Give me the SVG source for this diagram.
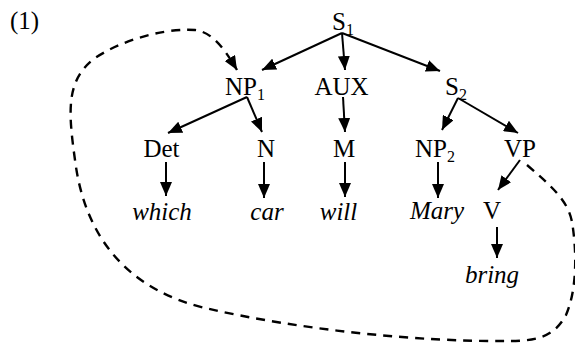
<svg xmlns="http://www.w3.org/2000/svg" width="575" height="345" viewBox="0 0 575 345">
<style>
text{font-family:"Liberation Serif","Times New Roman",serif;font-size:25px;fill:#000}
.it{font-style:italic}
.sub{font-size:16px}
.e{stroke:#000;stroke-width:2;fill:none}
.d{stroke:#000;stroke-width:2.4;fill:none;stroke-dasharray:9 7}
</style>
<defs>
<marker id="ah" markerUnits="userSpaceOnUse" markerWidth="14" markerHeight="12" viewBox="0 0 14 12" refX="14" refY="6" orient="auto">
<path d="M0,0 L14,6 L0,12 z" fill="#000"/>
</marker>
</defs>
<rect width="575" height="345" fill="#fff"/>
<text x="10" y="29">(1)</text>
<g id="connectors">
<line class="e" x1="342" y1="33" x2="262" y2="70" marker-end="url(#ah)"/>
<line class="e" x1="342" y1="33" x2="345" y2="70" marker-end="url(#ah)"/>
<line class="e" x1="342" y1="33" x2="440" y2="71" marker-end="url(#ah)"/>
<line class="e" x1="247" y1="97" x2="168" y2="133" marker-end="url(#ah)"/>
<line class="e" x1="247" y1="97" x2="262" y2="132" marker-end="url(#ah)"/>
<line class="e" x1="343" y1="97" x2="345" y2="132" marker-end="url(#ah)"/>
<line class="e" x1="458" y1="98" x2="442" y2="130" marker-end="url(#ah)"/>
<line class="e" x1="458" y1="98" x2="518" y2="133" marker-end="url(#ah)"/>
<line class="e" x1="166" y1="162" x2="166" y2="196" marker-end="url(#ah)"/>
<line class="e" x1="264" y1="162" x2="264" y2="198" marker-end="url(#ah)"/>
<line class="e" x1="345" y1="162" x2="345" y2="197" marker-end="url(#ah)"/>
<line class="e" x1="438" y1="162" x2="438" y2="198" marker-end="url(#ah)"/>
<line class="e" x1="520" y1="160" x2="498" y2="190" marker-end="url(#ah)"/>
<line class="e" x1="497" y1="227" x2="497" y2="258" marker-end="url(#ah)"/>
<path class="d" d="M527 165 C550 185 568 200 572 222 C577 252 577 290 566 315 C555 335 540 341 510 341 C420 342 300 330 205 308 C130 290 85 240 75 160 C68 110 66 80 95 58 C130 35 175 28 195 30 C212 32 224 48 237 70" marker-end="url(#ah)"/>
</g>
<g id="S1"><text x="332" y="30">S<tspan class="sub" dy="5">1</tspan></text></g>
<g id="NP1"><text x="225" y="95">NP<tspan class="sub" dy="5">1</tspan></text></g>
<g id="AUX"><text x="341.5" y="95" text-anchor="middle">AUX</text></g>
<g id="S2"><text x="445" y="95">S<tspan class="sub" dy="5">2</tspan></text></g>
<g id="Det"><text x="161.5" y="157" text-anchor="middle">Det</text></g>
<g id="N"><text x="266" y="157" text-anchor="middle">N</text></g>
<g id="M"><text x="344" y="157" text-anchor="middle">M</text></g>
<g id="NP2"><text x="415" y="157">NP<tspan class="sub" dy="5">2</tspan></text></g>
<g id="VP"><text x="520" y="157" text-anchor="middle">VP</text></g>
<g id="which"><text class="it" x="162" y="220" text-anchor="middle">which</text></g>
<g id="car"><text class="it" x="267" y="220" text-anchor="middle">car</text></g>
<g id="will"><text class="it" x="338.5" y="220" text-anchor="middle">will</text></g>
<g id="Mary"><text class="it" x="437" y="219" text-anchor="middle">Mary</text></g>
<g id="V"><text x="492" y="219" text-anchor="middle">V</text></g>
<g id="bring"><text class="it" x="492" y="283" text-anchor="middle">bring</text></g>
</svg>
